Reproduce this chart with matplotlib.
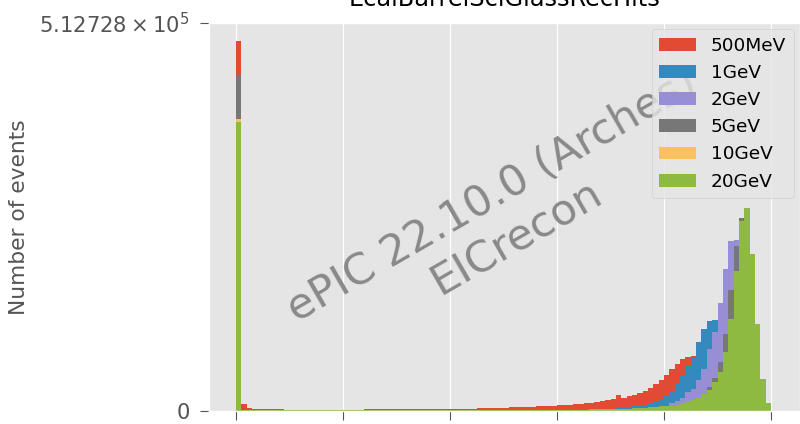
import numpy as np
import matplotlib
matplotlib.use('Agg')
import matplotlib.pyplot as plt

plt.style.use('ggplot')

# ---------------- data ----------------
labels = ['500MeV', '1GeV', '2GeV', '5GeV', '10GeV', '20GeV']
bin_edges = np.linspace(0.0, 1.0, 101)
xticks = [0.0, 0.2, 0.4, 0.6, 0.8, 1.0]
ytick_values = [0, 512728]
ytick_labels = ['0', r'$5.12728\times10^{5}$']

# counts per bin, in thousands of events (100 bins each)
e500MeV = [488.3,
           9.2, 4.0, 2.6,
           1.8, 1.7, 1.7, 1.6, 1.6, 1.5,
           0.5, 0.45, 0.4, 0.4, 0.35, 0.4, 0.3, 0.35, 0.4, 0.45, 0.5, 0.6,
           1.5, 1.5, 1.6, 1.6, 1.6, 1.7, 1.7, 1.7, 1.7, 1.8, 1.8, 1.8, 1.9, 1.9, 1.9, 2.0, 2.0,
           2.6, 2.7, 2.7, 2.8, 2.8, 2.9, 3.0,
           3.9, 4.0, 4.1, 4.1, 4.2,
           5.2, 5.3, 5.3, 5.4, 5.5,
           6.5, 6.6, 6.7, 6.8,
           7.8, 7.9, 8.0,
           9.1, 9.3,
           10.4, 10.6,
           11.8,
           12.3, 13.6, 14.9, 21.1, 17.1, 19.8, 21.1, 23.7, 26.4, 30.3, 35.6, 40.9,
           47.5, 55.4, 61.9, 68.5, 71.2, 72.5, 65.9, 52.7, 36.9, 21.1,
           10.5, 5.3, 2.6, 1.3, 0.6, 0.3, 0.15, 0.08, 0.04, 0.02]

e1GeV = [395.4,
         1.2, 0.6, 0.35,
         0.3, 0.3, 0.3, 0.25, 0.25, 0.25,
         0.2, 0.2, 0.2, 0.2, 0.2, 0.2, 0.2, 0.2, 0.2, 0.2, 0.2, 0.2,
         0.2, 0.2, 0.2, 0.2, 0.2, 0.2, 0.2, 0.2, 0.2, 0.2, 0.2, 0.2, 0.2, 0.2, 0.2, 0.2, 0.2,
         0.25, 0.25, 0.25, 0.25, 0.25, 0.25, 0.25,
         0.25, 0.25, 0.25, 0.25, 0.25,
         0.3, 0.3, 0.3, 0.3, 0.3,
         0.3, 0.35, 0.9, 1.0,
         1.0, 1.0, 1.1,
         1.1, 1.2,
         1.2, 1.3,
         1.4,
         1.6, 1.7, 2.0, 4.4, 4.4, 4.5, 7.0, 7.0, 8.0, 9.9, 12.5, 15.8,
         19.8, 26.4, 35.6, 47.5, 59.3, 71.2, 90.9, 108.1, 118.6, 119.9,
         116.0, 98.9, 72.5, 46.1, 23.7, 10.5, 4.0, 1.3, 0.7, 0.3]

e2GeV = [382.2,
         1.1, 0.55, 0.3,
         0.25, 0.25, 0.25, 0.2, 0.2, 0.2,
         0.15, 0.15, 0.15, 0.15, 0.15, 0.15, 0.15, 0.15, 0.15, 0.15, 0.15, 0.15,
         0.2, 0.2, 0.2, 0.2, 0.2, 0.2, 0.2, 0.2, 0.2, 0.2, 0.2, 0.2, 0.2, 0.2, 0.2, 0.2, 0.2,
         0.2, 0.2, 0.2, 0.2, 0.2, 0.2, 0.2,
         0.2, 0.2, 0.2, 0.2, 0.2,
         0.25, 0.25, 0.25, 0.25, 0.25,
         0.3, 0.3, 0.8, 0.9,
         0.9, 1.0, 1.0,
         1.0, 1.1,
         1.1, 1.2,
         1.2,
         1.3, 1.3, 1.3, 1.3, 1.6, 2.0, 2.4, 2.6, 3.3, 3.7, 4.2, 4.7,
         6.6, 10.5, 13.2, 17.1, 24.1, 29.0, 40.9, 55.4, 81.7, 104.1,
         142.3, 187.2, 224.1, 225.4, 197.7, 131.8, 59.3, 19.8, 6.6, 2.0]

e5GeV = [444.2,
         1.0, 0.5, 0.3,
         0.2, 0.2, 0.2, 0.15, 0.15, 0.15,
         0.1, 0.1, 0.1, 0.1, 0.1, 0.1, 0.1, 0.1, 0.1, 0.1, 0.1, 0.1,
         0.15, 0.15, 0.15, 0.15, 0.15, 0.15, 0.15, 0.15, 0.15, 0.15, 0.15, 0.15, 0.15, 0.15, 0.15, 0.15, 0.15,
         0.2, 0.2, 0.2, 0.2, 0.2, 0.2, 0.2,
         0.2, 0.2, 0.2, 0.2, 0.2,
         0.2, 0.2, 0.2, 0.2, 0.2,
         0.25, 0.25, 0.5, 0.5,
         0.5, 0.5, 0.5,
         0.6, 0.7,
         0.8, 0.9,
         1.0,
         1.1, 1.2, 1.4, 1.5, 1.7, 1.9, 2.2, 2.6, 3.0, 3.5, 4.0, 4.6,
         5.3, 6.2, 7.5, 9.0, 11.0, 13.5, 16.5, 22.4, 30.7, 43.1,
         64.6, 101.5, 159.5, 217.5, 254.4, 224.1, 131.8, 52.7, 13.2, 4.0]

e10GeV = [384.9,
          0.9, 0.5, 0.3,
          0.2, 0.2, 0.2, 0.15, 0.15, 0.15,
          0.1, 0.1, 0.1, 0.1, 0.1, 0.1, 0.1, 0.1, 0.1, 0.1, 0.1, 0.1,
          0.15, 0.15, 0.15, 0.15, 0.15, 0.15, 0.15, 0.15, 0.15, 0.15, 0.15, 0.15, 0.15, 0.15, 0.15, 0.15, 0.15,
          0.15, 0.15, 0.15, 0.15, 0.15, 0.15, 0.15,
          0.15, 0.15, 0.15, 0.15, 0.15,
          0.2, 0.2, 0.2, 0.2, 0.2,
          0.2, 0.2, 0.8, 0.8,
          0.8, 0.8, 0.8,
          0.9, 0.9,
          1.0, 1.0,
          1.1,
          1.2, 1.3, 1.5, 1.7, 1.9, 2.1, 2.5, 2.9, 3.4, 3.9, 4.5, 5.1,
          5.7, 6.4, 7.5, 9.2, 12.0, 14.0, 16.5, 20.5, 26.5, 35.5,
          50.0, 75.0, 115.0, 175.0, 240.0, 262.0, 195.0, 100.0, 35.0, 8.0]

e20GeV = [380.9,
          1.3, 0.7, 0.4,
          0.3, 0.3, 0.3, 0.3, 0.3, 0.3,
          0.35, 0.3, 0.35, 0.3, 0.4, 0.3, 0.35, 0.4, 0.3, 0.35, 0.3, 0.35,
          0.3, 0.3, 0.3, 0.3, 0.3, 0.3, 0.3, 0.3, 0.3, 0.3, 0.3, 0.3, 0.3, 0.3, 0.3, 0.3, 0.3,
          0.3, 0.3, 0.3, 0.3, 0.3, 0.3, 0.3,
          0.3, 0.3, 0.3, 0.3, 0.3,
          0.35, 0.35, 0.35, 0.35, 0.35,
          0.4, 0.5, 1.2, 1.3,
          1.3, 1.3, 1.4,
          1.4, 1.5,
          1.5, 1.6,
          1.7,
          2.0, 2.0, 2.4, 2.6, 2.6, 2.9, 3.3, 4.0, 4.2, 5.3, 5.3, 5.7,
          5.9, 6.6, 7.9, 9.6, 12.8, 14.5, 17.1, 21.5, 27.7, 37.3,
          51.8, 78.2, 121.3, 184.5, 250.4, 267.6, 206.9, 114.7, 42.2, 10.5]

series = [e500MeV, e1GeV, e2GeV, e5GeV, e10GeV, e20GeV]

# ---------------- plot ----------------
fig = plt.figure(figsize=(8.0, 4.24), dpi=100)
ax = fig.add_axes([209 / 800, (424 - 410.7) / 424, (800 - 209) / 800, (410.7 - 22.7) / 424])

centers = 0.5 * (bin_edges[:-1] + bin_edges[1:])
for lab, vals in zip(labels, series):
    assert len(vals) == 100
    ax.hist(centers, bins=bin_edges, weights=np.array(vals) * 1000.0,
            histtype='stepfilled', linewidth=0, label=lab)

ax.set_xlim(-0.0505, 1.0542)
ax.set_ylim(0, 512728)
ax.set_xticks(xticks)
ax.set_yticks(ytick_values)
ax.set_yticklabels(ytick_labels)
ax.tick_params(axis='both', labelsize=15.2, length=6.5, pad=7.5, colors='#555555')
ax.tick_params(axis='x', labelbottom=False)

ax.set_title('EcalBarrelSciGlassRecHits', fontsize=17.3, pad=12)
ax.set_ylabel('Number of events', fontsize=15.7, color='#555555')
ax.yaxis.set_label_coords(-0.304, 0.5)

ax.text(0.5, 0.5, 'ePIC 22.10.0 (Arches)\nEICrecon', transform=ax.transAxes,
        ha='center', va='center', rotation=30, fontsize=31, color='#898989',
        multialignment='center', zorder=5)

leg = ax.legend(loc='upper right', fontsize=13.3, borderaxespad=0.35)
leg.set_zorder(10)

fig.savefig('out.png', dpi=100)
